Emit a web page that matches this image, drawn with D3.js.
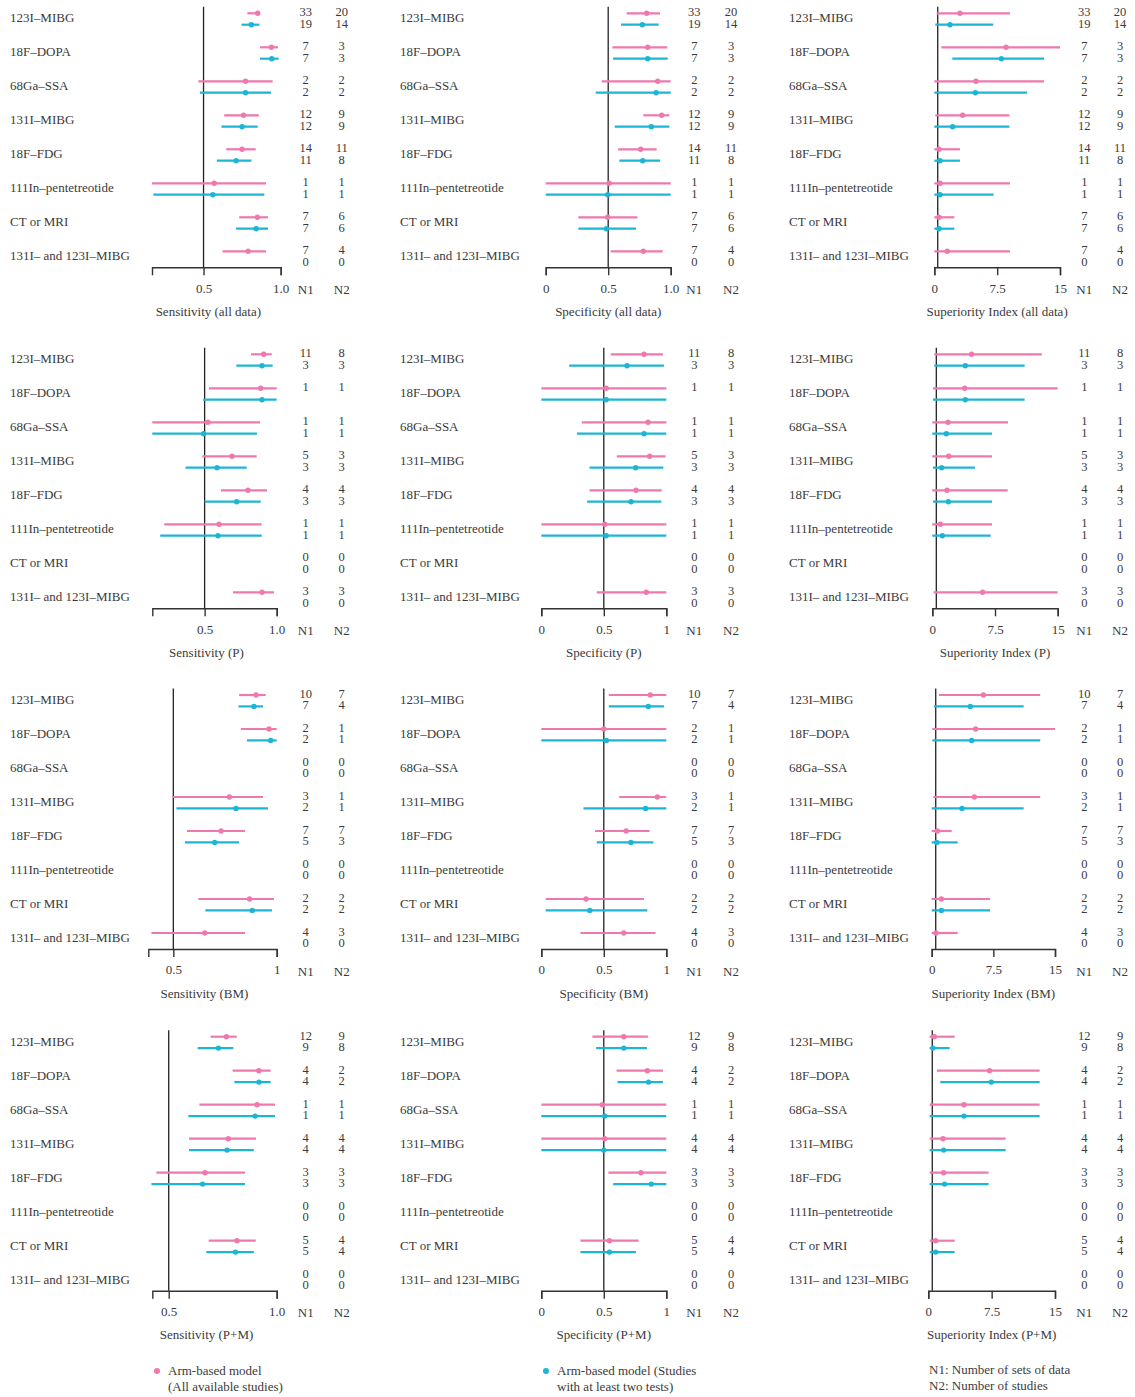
<!DOCTYPE html>
<html><head><meta charset="utf-8">
<script src="https://cdn.jsdelivr.net/npm/d3@7/dist/d3.min.js"></script>
<style>
html,body{margin:0;padding:0;background:#fff;}
svg text{font-family:"Liberation Serif","DejaVu Serif",serif;fill:#3a3a3a;}
</style></head>
<body><svg id="c" width="1135" height="1397"></svg>
<script>
const categories = ["123I–MIBG","18F–DOPA","68Ga–SSA","131I–MIBG","18F–FDG","111In–pentetreotide","CT or MRI","131I– and 123I–MIBG"];
const seriesNames = ["Arm-based model\n(All available studies)","Arm-based model (Studies\nwith at least two tests)"];
const noteLines = ["N1: Number of sets of data","N2: Number of studies"];

// [estimate, lower, upper]
const sensAllPink = [[0.851,0.784,0.862],[0.940,0.866,0.983],[0.772,0.466,0.948],[0.759,0.634,0.858],[0.750,0.647,0.838],[0.569,0.166,0.905],[0.849,0.731,0.918],[0.789,0.623,0.905]];
const sensAllBlue = [[0.810,0.746,0.862],[0.942,0.866,0.987],[0.772,0.476,0.937],[0.750,0.616,0.851],[0.711,0.586,0.810],[0.560,0.175,0.894],[0.841,0.711,0.918],null];
const specAllPink = [[0.808,0.648,0.915],[0.816,0.533,0.973],[0.896,0.448,1],[0.928,0.781,0.989],[0.760,0.579,0.888],[0.507,0,1],[0.496,0.261,0.733],[0.781,0.520,0.936]];
const specAllBlue = [[0.773,0.603,0.904],[0.816,0.539,0.976],[0.883,0.400,1],[0.845,0.552,0.989],[0.776,0.589,0.915],[0.496,0,1],[0.485,0.261,0.723],null];
const supAllPink = [[3.06,0.28,9.03],[8.56,0.84,15],[4.97,0,13.09],[3.38,0.12,8.96],[0.56,0,3.06],[0.68,0,9.03],[0.56,0,2.39],[1.55,0,9.03]];
const supAllBlue = [[1.87,0.12,7.04],[8.00,2.15,13.09],[4.90,0,11.06],[2.19,0,8.96],[0.68,0,3.06],[0.68,0,7.08],[0.56,0,2.39],null];

const sensPPink = [[0.910,0.822,0.965],[0.889,0.530,1],[0.523,0.137,0.884],[0.690,0.484,0.861],[0.801,0.613,0.933],[0.600,0.220,0.896],null,[0.898,0.697,0.981]];
const sensPBlue = [[0.898,0.720,0.972],[0.898,0.490,1],[0.493,0.137,0.863],[0.586,0.368,0.792],[0.722,0.500,0.889],[0.593,0.192,0.896],null,null];
const specPPink = [[0.822,0.556,0.973],[0.519,0,1],[0.854,0.324,1],[0.867,0.604,0.995],[0.758,0.386,0.963],[0.508,0,1],null,[0.840,0.444,1]];
const specPBlue = [[0.686,0.223,0.981],[0.519,0,1],[0.822,0.285,1],[0.755,0.386,0.976],[0.718,0.367,0.960],[0.519,0,1],null,null];
const supPPink = [[4.70,0.24,13.1],[3.87,0.08,15],[1.88,0,9.06],[1.96,0,7.14],[1.76,0,9.02],[0.96,0,7.14],null,[6.02,0.16,15]];
const supPBlue = [[3.95,0.24,11.05],[3.95,0.08,11.05],[1.68,0,7.14],[1.12,0.08,5.10],[1.92,0.08,7.14],[1.20,0,6.98],null,null];

const sensBMPink = [[0.900,0.818,0.947],[0.963,0.827,1],null,[0.771,0.495,0.934],[0.731,0.566,0.847],null,[0.869,0.621,0.987],[0.652,0.394,0.847]];
const sensBMBlue = [[0.890,0.815,0.934],[0.971,0.856,1],null,[0.803,0.515,0.958],[0.700,0.556,0.818],null,[0.882,0.655,0.977],null];
const specBMPink = [[0.872,0.540,1],[0.500,0,1],null,[0.928,0.623,1],[0.679,0.430,0.866],null,[0.358,0.035,0.821],[0.660,0.313,0.914]];
const specBMBlue = [[0.856,0.540,0.981],[0.521,0,1],null,[0.834,0.337,1],[0.717,0.444,0.896],null,[0.388,0.035,0.848],null];
const supBMPink = [[6.28,0.89,13.2],[5.35,0.08,15],null,[5.19,0.20,13.2],[0.69,0,2.43],null,[1.18,0,7.09],[0.53,0,3.16]];
const supBMBlue = [[4.70,0.28,11.19],[4.86,0.08,13.2],null,[3.69,0,11.19],[0.61,0,3.16],null,[1.18,0,7.09],null];

const sensPMPink = [[0.767,0.694,0.815],[0.917,0.796,0.972],[0.909,0.642,0.992],[0.776,0.594,0.904],[0.668,0.443,0.853],null,[0.816,0.685,0.903],null];
const sensPMBlue = [[0.730,0.634,0.799],[0.918,0.804,0.972],[0.900,0.591,0.992],[0.770,0.594,0.894],[0.657,0.420,0.853],null,[0.809,0.674,0.894],null];
const specPMPink = [[0.660,0.409,0.853],[0.848,0.602,0.973],[0.489,0,1],[0.508,0,1],[0.797,0.537,1],null,[0.545,0.313,0.778],null];
const specPMBlue = [[0.660,0.439,0.845],[0.858,0.610,0.973],[0.508,0,1],[0.500,0,1],[0.880,0.575,1],null,[0.545,0.313,0.757],null];
const supPMPink = [[0.71,0.16,3.12],[7.26,1.03,13.18],[4.22,0.16,13.18],[1.74,0.16,9.16],[1.82,0.16,7.14],null,[0.87,0.16,3.12],null];
const supPMBlue = [[0.55,0.16,2.53],[7.46,1.42,13.18],[4.22,0.16,13.18],[1.82,0.16,9.16],[1.93,0.16,7.14],null,[0.87,0.16,3.12],null];

// [N1, N2]
const nAllPink = [[33,20],[7,3],[2,2],[12,9],[14,11],[1,1],[7,6],[7,4]];
const nAllBlue = [[19,14],[7,3],[2,2],[12,9],[11,8],[1,1],[7,6],[0,0]];
const nPPink = [[11,8],[1,1],[1,1],[5,3],[4,4],[1,1],[0,0],[3,3]];
const nPBlue = [[3,3],null,[1,1],[3,3],[3,3],[1,1],[0,0],[0,0]];
const nBMPink = [[10,7],[2,1],[0,0],[3,1],[7,7],[0,0],[2,2],[4,3]];
const nBMBlue = [[7,4],[2,1],[0,0],[2,1],[5,3],[0,0],[2,2],[0,0]];
const nPMPink = [[12,9],[4,2],[1,1],[4,4],[3,3],[0,0],[5,4],[0,0]];
const nPMBlue = [[9,8],[4,2],[1,1],[4,4],[3,3],[0,0],[5,4],[0,0]];

const rowSuffix = ["all data","P","BM","P+M"];
const measureNames = ["Sensitivity","Specificity","Superiority Index"];
const sensDomains = [[0.166,1],[0.137,1],[0.379,1],[0.424,1]];
const specDomains = [[0,1],[0,1],[0,1],[0,1]];
const supDomains = [[0,15],[0,15],[0,15],[0,15]];
const sensTicks = [[0.5,1],[0.5,1],[0.5,1],[0.5,1]];
const sensTickLabels = [["0.5","1.0"],["0.5","1.0"],["0.5","1"],["0.5","1.0"]];
const specTicks = [[0,0.5,1],[0,0.5,1],[0,0.5,1],[0,0.5,1]];
const specTickLabels = [["0","0.5","1.0"],["0","0.5","1"],["0","0.5","1"],["0","0.5","1"]];
const supTicks = [[0,7.5,15],[0,7.5,15],[0,7.5,15],[0,7.5,15]];
const supTickLabels = [["0","7.5","15"],["0","7.5","15"],["0","7.5","15"],["0","7.5","15"]];
const sensRef = [0.5,0.5,0.5,0.5];
const specRef = [0.5,0.5,0.5,0.5];
const supRef = [0.41,0.48,0.49,0.47];

const pinkData = [[sensAllPink,specAllPink,supAllPink],[sensPPink,specPPink,supPPink],[sensBMPink,specBMPink,supBMPink],[sensPMPink,specPMPink,supPMPink]];
const blueData = [[sensAllBlue,specAllBlue,supAllBlue],[sensPBlue,specPBlue,supPBlue],[sensBMBlue,specBMBlue,supBMBlue],[sensPMBlue,specPMBlue,supPMBlue]];
const nPink = [nAllPink,nPPink,nBMPink,nPMPink];
const nBlue = [nAllBlue,nPBlue,nBMBlue,nPMBlue];
const domains = [sensDomains,specDomains,supDomains];
const ticks = [sensTicks,specTicks,supTicks];
const tickLabels = [sensTickLabels,specTickLabels,supTickLabels];
const refs = [sensRef,specRef,supRef];

// ---- layout ----
const PINK = "#ef79ae", BLUE = "#1db5d5", INK = "#3a3a3a";
const rowFirst = [13.3,354.3,695,1036.7];
const xRanges = [
  [[152,280.7],[545.7,670.7],[934.3,1060]],
  [[152.3,276.7],[541.3,666.3],[932.3,1057.7]],
  [[148.3,276.7],[541.3,666.3],[931.7,1055]],
  [[152.3,276.7],[541.3,666.3],[928.3,1055]]
];
const labelX = [10,400,789];
const n1X = [305.7,694.3,1084.3];
const n2X = [341.7,731,1120];
const gap = 34, pairOff = 11.4;

const svg = d3.select("#c");

for (let r = 0; r < 4; r++) {
  const y = d3.scalePoint().domain(categories).range([rowFirst[r], rowFirst[r] + gap*7]);
  const axisY = rowFirst[r] + 254;
  for (let c = 0; c < 3; c++) {
    const g = svg.append("g");
    const x = d3.scaleLinear().domain(domains[c][r]).range(xRanges[r][c]);
    // category labels
    g.selectAll("text.cat").data(categories).join("text")
      .attr("x", labelX[c]).attr("y", d => y(d) + pairOff/2 - 1.2)
      .attr("dominant-baseline","central").attr("font-size",13).text(d => d);
    // reference line
    g.append("line").attr("x1", x(refs[c][r])).attr("x2", x(refs[c][r]))
      .attr("y1", rowFirst[r] - 6.5).attr("y2", axisY)
      .attr("stroke", "#222").attr("stroke-width", 1.3);
    // axis
    const lbls = tickLabels[c][r];
    const ax = d3.axisBottom(x).tickValues(ticks[c][r]).tickSize(8).tickPadding(8)
      .tickFormat((d,i) => lbls[i]);
    const ag = g.append("g").attr("transform", `translate(0,${axisY})`).call(ax);
    ag.select(".domain").attr("stroke","#333").attr("stroke-width",1.4);
    ag.selectAll(".tick line").attr("stroke","#333").attr("stroke-width",1.4);
    ag.selectAll(".tick text").attr("font-size",13).attr("fill",INK)
      .attr("font-family",'"Liberation Serif","DejaVu Serif",serif');
    // header
    const hy = axisY + 22;
    g.append("text").attr("x", n1X[c]).attr("y", hy).attr("text-anchor","middle")
      .attr("dominant-baseline","central").attr("font-size",13).text("N1");
    g.append("text").attr("x", n2X[c]).attr("y", hy).attr("text-anchor","middle")
      .attr("dominant-baseline","central").attr("font-size",13).text("N2");
    // title
    const xr = xRanges[r][c];
    g.append("text").attr("x", (xr[0]+xr[1])/2 - (c===0?8:0)).attr("y", axisY + 44)
      .attr("text-anchor","middle").attr("dominant-baseline","central").attr("font-size",13)
      .text(`${measureNames[c]} (${rowSuffix[r]})`);
    // series
    const series = [
      {data: pinkData[r][c], n: nPink[r], color: PINK, off: 0},
      {data: blueData[r][c], n: nBlue[r], color: BLUE, off: pairOff}
    ];
    series.forEach(s => {
      const items = categories.map((cat,i) => ({cat, v: s.data[i], n: s.n[i]}));
      const est = items.filter(d => d.v);
      g.selectAll(null).data(est).join("line")
        .attr("x1", d => x(d.v[1])).attr("x2", d => x(d.v[2]))
        .attr("y1", d => y(d.cat) + s.off).attr("y2", d => y(d.cat) + s.off)
        .attr("stroke", s.color).attr("stroke-width", 2.2);
      g.selectAll(null).data(est).join("circle")
        .attr("cx", d => x(d.v[0])).attr("cy", d => y(d.cat) + s.off)
        .attr("r", 2.7).attr("fill", s.color);
      const withN = items.filter(d => d.n);
      g.selectAll(null).data(withN).join("text")
        .attr("x", n1X[c]).attr("y", d => y(d.cat) + s.off - 1)
        .attr("text-anchor","middle").attr("dominant-baseline","central").attr("font-size",12.5)
        .text(d => d.n[0]);
      g.selectAll(null).data(withN).join("text")
        .attr("x", n2X[c]).attr("y", d => y(d.cat) + s.off - 1)
        .attr("text-anchor","middle").attr("dominant-baseline","central").attr("font-size",12.5)
        .text(d => d.n[1]);
    });
  }
}

// legend
const legend = svg.append("g");
const legendItems = [{x:157, color:PINK, text:seriesNames[0]},{x:546, color:BLUE, text:seriesNames[1]}];
legendItems.forEach(it => {
  legend.append("circle").attr("cx", it.x).attr("cy", 1371).attr("r", 3).attr("fill", it.color);
  it.text.split("\n").forEach((t,i) => {
    legend.append("text").attr("x", it.x + 11).attr("y", 1370.5 + i*16)
      .attr("dominant-baseline","central").attr("font-size",13).text(t);
  });
});
noteLines.forEach((t,i) => {
  legend.append("text").attr("x", 929).attr("y", 1369.5 + i*16)
    .attr("dominant-baseline","central").attr("font-size",13).text(t);
});
</script></body></html>
